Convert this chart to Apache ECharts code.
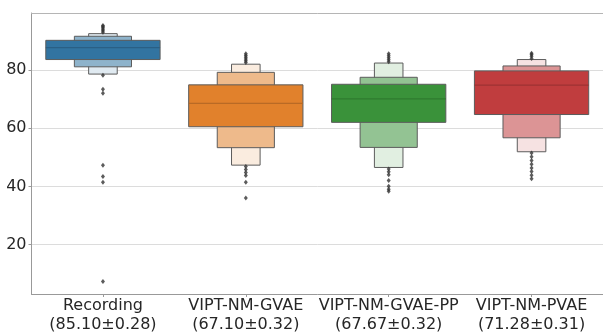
<!DOCTYPE html>
<html>
<head>
<meta charset="utf-8">
<script src="https://cdn.jsdelivr.net/npm/echarts@6/dist/echarts.min.js"></script>
<style>
html,body{margin:0;padding:0;background:#fff;}
#chart{width:603px;height:334px;}
</style>
</head>
<body>
<div id="chart"></div>
<script>
// ---- data ----
const categories = ['Recording', 'VIPT-NM-GVAE', 'VIPT-NM-GVAE-PP', 'VIPT-NM-PVAE'];
const scores = ['(85.10±0.28)', '(67.10±0.32)', '(67.67±0.32)', '(71.28±0.31)'];
// letter values: innermost box (lower1/upper1), second (lower2/upper2), third (lower3/upper3)
const lower3 = [78.6, 47.3, 46.5, 51.9];
const lower2 = [81.1, 53.3, 53.4, 56.7];
const lower1 = [83.6, 60.5, 62.0, 64.7];
const medians = [87.7, 68.5, 70.1, 74.8];
const upper1 = [90.2, 74.9, 75.1, 79.7];
const upper2 = [91.6, 79.2, 77.5, 81.4];
const upper3 = [92.5, 82.0, 82.4, 83.6];
const outliersRecording = [93.0, 93.5, 94.0, 94.5, 95.0, 95.3, 78.2, 73.4, 72.0, 47.3, 43.4, 41.4, 7.3];
const outliersGVAE = [82.6, 83.2, 83.8, 84.4, 85.0, 85.6, 46.8, 45.8, 44.8, 43.7, 41.4, 36.0];
const outliersGVAEPP = [82.8, 83.5, 84.2, 84.9, 85.6, 46.0, 45.0, 44.0, 42.0, 40.0, 39.0, 38.3];
const outliersPVAE = [84.0, 84.7, 85.3, 85.8, 51.5, 50.2, 48.9, 47.6, 46.3, 45.1, 43.8, 42.6];
const yTicks = [20, 40, 60, 80];

// ---- styles ----
// [full, second, third] shades per category
const palettes = [
  ['#3274a1', '#8eb3cb', '#e0eaf1'],
  ['#e1812c', '#eeba8b', '#faecdf'],
  ['#3a923a', '#93c393', '#e1efe1'],
  ['#c03d3e', '#dc9495', '#f6e2e2'],
];
const medianColors = ['#2a5f85', '#b96a25', '#2f7a2f', '#9e3233'];

const boxData = categories.map((c, i) => [i, lower3[i], lower2[i], lower1[i], medians[i], upper1[i], upper2[i], upper3[i]]);
const outlierLists = [outliersRecording, outliersGVAE, outliersGVAEPP, outliersPVAE];
const outlierData = [];
outlierLists.forEach((arr, i) => arr.forEach(v => outlierData.push([i, v])));

const chart = echarts.init(document.getElementById('chart'), null, {renderer: 'canvas'});
const font = "'DejaVu Sans', sans-serif";
const labels = categories.map((c, i) => c + '\n' + scores[i]);

chart.setOption({
  animation: false,
  grid: {left: 31.5, top: 13, width: 574, height: 283, show: false},
  xAxis: [
    {
      type: 'category',
      data: labels,
      boundaryGap: true,
      axisLine: {lineStyle: {color: '#999', width: 1}},
      axisTick: {show: true, alignWithLabel: true, length: 3, lineStyle: {color: '#999'}},
      axisLabel: {fontFamily: font, fontSize: 16, color: '#262626', lineHeight: 18.5, margin: 3, interval: 0},
      splitLine: {show: false}
    },
    {
      type: 'category',
      position: 'top',
      data: labels,
      axisLine: {show: true, lineStyle: {color: '#b5b5b5', width: 1}},
      axisTick: {show: false},
      axisLabel: {show: false},
      splitLine: {show: false}
    }
  ],
  yAxis: {
    type: 'value',
    min: 3, max: 99.6,
    axisLine: {show: true, lineStyle: {color: '#999', width: 1}},
    axisTick: {show: true, length: 3, lineStyle: {color: '#999'}, customValues: yTicks},
    axisLabel: {fontFamily: font, fontSize: 16, color: '#262626', margin: 5, customValues: yTicks},
    splitLine: {show: true, lineStyle: {color: '#dcdcdc', width: 1}}
  },
  series: [
    {
      type: 'custom',
      data: boxData,
      encode: {x: 0, y: [1, 2, 3, 4, 5, 6, 7]},
      clip: false,
      renderItem: function (params, api) {
        const i = api.value(0);
        const center = api.coord([i, api.value(4)]);
        const bw = api.size([1, 0])[0];
        const levels = [[1, 7, 0.2, 2], [2, 6, 0.4, 1], [3, 5, 0.8, 0]];
        const children = levels.map(l => {
          const yTop = api.coord([i, api.value(l[1])])[1];
          const yBot = api.coord([i, api.value(l[0])])[1];
          const w = bw * l[2];
          return {
            type: 'rect',
            shape: {x: center[0] - w / 2, y: yTop, width: w, height: yBot - yTop},
            style: {fill: palettes[i][l[3]], stroke: '#5c5c5c', lineWidth: 1}
          };
        });
        const w0 = bw * 0.8;
        children.push({
          type: 'line',
          shape: {x1: center[0] - w0 / 2, y1: center[1], x2: center[0] + w0 / 2, y2: center[1]},
          style: {stroke: medianColors[i], lineWidth: 1.2}
        });
        return {type: 'group', children: children};
      },
      z: 2
    },
    {
      type: 'scatter',
      data: outlierData,
      symbol: 'diamond',
      symbolSize: [4, 5],
      itemStyle: {color: '#333'},
      z: 3
    }
  ]
});
</script>
</body>
</html>
